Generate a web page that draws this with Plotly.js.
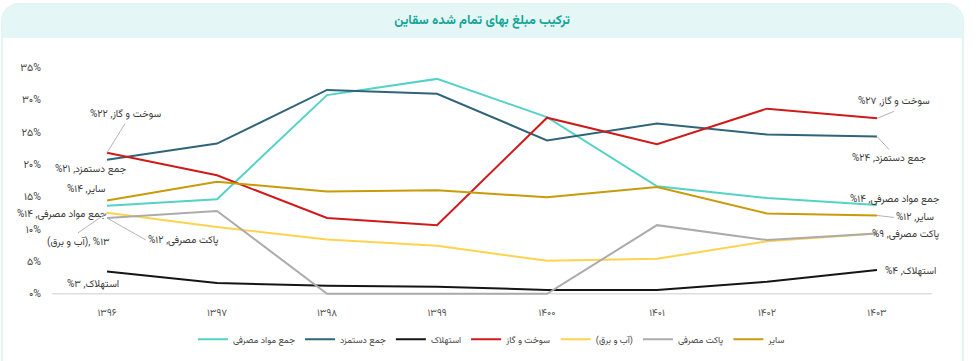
<!DOCTYPE html>
<html>
<head>
<meta charset="utf-8">
<script src="https://cdn.plot.ly/plotly-3.0.1.min.js"></script>
<style>
  html, body { margin: 0; padding: 0; background: #ffffff; width: 979px; height: 361px; overflow: hidden; }
  #card { position: absolute; left: 1px; top: 3px; width: 963px; height: 420px;
          border: 2px solid #e2f4f4; border-radius: 18px 18px 0 0; box-sizing: border-box; background: #fff; }
  #head { position: absolute; left: 0; top: 0; right: 0; height: 33px; background: #e4f6f6; border-radius: 16px 16px 0 0; }
  #chart { position: absolute; left: 0; top: 0; width: 979px; height: 361px; }
</style>
</head>
<body>
<div id="card"><div id="head"></div></div>
<div id="chart"></div>
<script>
const years = ['۱۳۹۶','۱۳۹۷','۱۳۹۸','۱۳۹۹','۱۴۰۰','۱۴۰۱','۱۴۰۲','۱۴۰۳'];
const yTickVals = [0, 5, 10, 15, 20, 25, 30, 35];
const yTickText = ['۰%','۵%','۱۰%','۱۵%','۲۰%','۲۵%','۳۰%','۳۵%'];

const seriesNames = ['جمع مواد مصرفی','جمع دستمزد','استهلاک','سوخت و گاز','(آب و برق)','پاکت مصرفی','سایر'];
const materials = [13.6, 14.6, 30.7, 33.2, 27.3, 16.6, 14.8, 13.7];
const wages     = [20.7, 23.2, 31.5, 30.9, 23.7, 26.3, 24.6, 24.3];
const depreciation = [3.45, 1.65, 1.24, 1.1, 0.6, 0.6, 1.86, 3.67];
const fuelGas   = [21.8, 18.3, 11.7, 10.6, 27.2, 23.1, 28.6, 27.1];
const waterPower= [12.5, 10.3, 8.4, 7.4, 5.1, 5.4, 8.1, 9.3];
const packaging = [11.7, 12.8, 0, 0, 0, 10.6, 8.3, 9.3];
const other     = [14.4, 17.3, 15.8, 16.0, 14.9, 16.5, 12.4, 12.1];

const colors = ['#55d2c6','#2f6479','#151515','#cf1a1a','#ffd34f','#ababab','#c89b0a'];
const allSeries = [materials, wages, depreciation, fuelGas, waterPower, packaging, other];

const FONT = 'Vazirmatn, "Noto Sans", "DejaVu Sans", sans-serif';
const RLM = '\u200F';

const traces = allSeries.map((vals, i) => ({
  type: 'scatter', mode: 'lines', x: years, y: vals, name: seriesNames[i],
  line: { color: colors[i], width: 2 }, hoverinfo: 'skip'
}));

// label texts (start / end)
const startLabels = ['سوخت و گاز, ۲۲%','جمع دستمزد, ۲۱%','سایر, ۱۴%','جمع مواد مصرفی, ۱۴%','(آب و برق), ۱۳%','پاکت مصرفی, ۱۲%','استهلاک, ۳%'];
const endLabels = ['سوخت و گاز, ۲۷%','جمع دستمزد, ۲۴%','جمع مواد مصرفی, ۱۴%','سایر, ۱۲%','پاکت مصرفی, ۹%','استهلاک, ۴%'];

function ann(xi, yv, text, opt) {
  const a = { x: years[xi], y: yv, xref: 'x', yref: 'y', text: text + RLM,
    font: { family: FONT, size: 10, color: '#3a3a3a' } };
  if (opt.arrow) {
    Object.assign(a, { showarrow: true, arrowhead: 0, arrowwidth: 1, arrowcolor: '#b5b5b5',
      ax: opt.dx, ay: opt.dy, standoff: 0, startstandoff: 0,
      xanchor: opt.xa || 'center', yanchor: opt.ya || 'middle' });
  } else {
    Object.assign(a, { showarrow: false, xshift: opt.dx, yshift: -opt.dy,
      xanchor: opt.xa || 'center', yanchor: 'middle' });
  }
  return a;
}

const annotations = [
  ann(0, fuelGas[0], startLabels[0], { arrow: true, dx: 18, dy: -29, ya: 'bottom' }),
  ann(0, wages[0], startLabels[1], { dx: -17, dy: 10 }),
  ann(0, other[0], startLabels[2], { dx: -21, dy: -11 }),
  ann(0, materials[0], startLabels[3], { dx: -45, dy: 9 }),
  ann(0, waterPower[0], startLabels[4], { arrow: true, dx: -29, dy: 20, ya: 'top' }),
  ann(0, packaging[0], startLabels[5], { arrow: true, dx: 39, dy: 22, xa: 'left' }),
  ann(0, depreciation[0], startLabels[6], { dx: -14, dy: 13 }),
  ann(7, fuelGas[7], endLabels[0], { arrow: true, dx: 17, dy: -7, ya: 'bottom' }),
  ann(7, wages[7], endLabels[1], { arrow: true, dx: 12, dy: 13, ya: 'top' }),
  ann(7, materials[7], endLabels[2], { dx: 18, dy: -6 }),
  ann(7, other[7], endLabels[3], { arrow: true, dx: 17, dy: 2, xa: 'left' }),
  ann(7, packaging[7], endLabels[4], { dx: 28, dy: 1 }),
  ann(7, depreciation[7], endLabels[5], { dx: 33, dy: 1 })
];

const layout = {
  width: 979, height: 361,
  paper_bgcolor: 'rgba(0,0,0,0)', plot_bgcolor: 'rgba(0,0,0,0)',
  margin: { l: 52, r: 47, t: 64, b: 64, autoexpand: false },
  font: { family: FONT, size: 10, color: '#444' },
  title: { text: '<b>ترکیب مبلغ بهای تمام شده سقاین</b>', x: 0.4924, xref: 'container',
           y: 0.945, yref: 'container', yanchor: 'middle', xanchor: 'center',
           font: { family: FONT, size: 13, color: '#13a596' } },
  xaxis: { type: 'category', range: [-0.5, 7.5], showgrid: false, zeroline: false, showline: false, automargin: false,
           ticks: '', tickfont: { family: FONT, size: 10, color: '#555' }, ticklabelstandoff: 8, fixedrange: true },
  yaxis: { range: [-0.5, 35.5], tickvals: yTickVals, ticktext: yTickText, showgrid: false, zeroline: false, automargin: false,
           showline: false, ticks: '', tickfont: { family: FONT, size: 10.5, color: '#444' }, ticklabelstandoff: 10, fixedrange: true },
  shapes: [{ type: 'line', xref: 'paper', x0: 0, x1: 1, yref: 'y', y0: 0, y1: 0,
             line: { color: '#dedede', width: 1.5 }, layer: 'below' }],
  showlegend: true,
  legend: { orientation: 'h', xref: 'paper', x: 0.5, xanchor: 'center', yref: 'container', y: 0.06, yanchor: 'middle',
            font: { family: FONT, size: 9, color: '#444' }, bgcolor: 'rgba(0,0,0,0)',
            itemwidth: 30, tracegroupgap: 0 },
  annotations: annotations
};

Plotly.newPlot('chart', traces, layout, { displayModeBar: false, staticPlot: true });
</script>
</body>
</html>
